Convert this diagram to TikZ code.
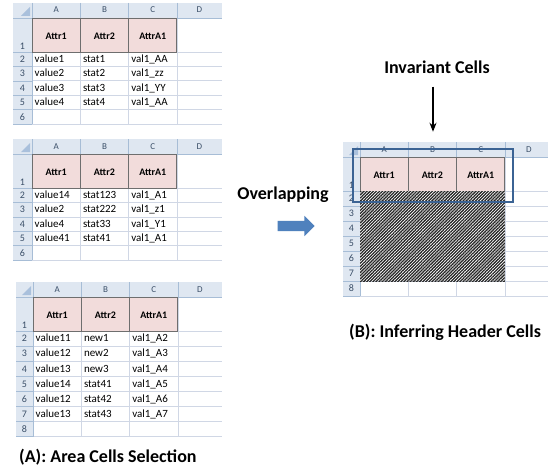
\documentclass[tikz,border=0pt]{standalone}
\usepackage{fontspec}
\setmainfont{Carlito}
\usetikzlibrary{patterns.meta,shapes.arrows,arrows.meta}
\definecolor{hdr}{HTML}{DFE7F1}
\definecolor{hdrline}{HTML}{A7BDD6}
\definecolor{gridc}{HTML}{D0D7E5}
\definecolor{pinkc}{HTML}{F2DCDB}
\definecolor{pinkline}{HTML}{6E6E6E}
\definecolor{cornerc}{HTML}{A9C0DC}
\definecolor{hdrtext}{HTML}{3B4F68}
\definecolor{boxblue}{HTML}{3B6394}
\definecolor{arrblue}{HTML}{4F81BD}
\tikzset{
 colletter/.style={font=\fontsize{9}{10}\selectfont, text=hdrtext, inner sep=0pt, text height=6.5pt, text depth=1.5pt},
 rownum/.style={font=\fontsize{10}{11}\selectfont, text=hdrtext, inner sep=0pt, text height=7pt, text depth=1.5pt},
 attrcell/.style={font=\bfseries\fontsize{10}{11}\selectfont, inner sep=0pt, text height=7pt, text depth=1.5pt},
 datacell/.style={font=\fontsize{11}{13}\selectfont, anchor=west, inner sep=0pt, text height=7.5pt, text depth=2pt},
 captiontext/.style={font=\bfseries\fontsize{18}{21}\selectfont, inner sep=0pt},
 gridline/.style={draw=gridc, line width=0.6pt},
 hdrrule/.style={draw=hdrline, line width=0.5pt},
}
% #1 prefix, #2 row-number width, #3 row height, #4 rows after row 1, #5 total width
\newcommand\sheet[5]{%
 \pgfmathsetmacro\xa{#2}%
 \pgfmathsetmacro\xb{#2+48.3}%
 \pgfmathsetmacro\xc{#2+96.6}%
 \pgfmathsetmacro\xd{#2+144.9}%
 \pgfmathsetmacro\yb{49+#4*#3}%
 \fill[hdr] (0,0) rectangle (#5,15);
 \fill[hdr] (0,15) rectangle (\xa,\yb);
 \foreach \k in {0,...,#4}{%
   \draw[gridline] (\xa,{49+\k*#3}) -- (#5,{49+\k*#3});
   \draw[hdrrule] (0,{49+\k*#3}) -- (\xa,{49+\k*#3});}
 \foreach \x in {\xb,\xc,\xd}{%
   \draw[gridline] (\x,15) -- (\x,\yb);
   \draw[hdrrule] (\x,0) -- (\x,15);}
 \draw[hdrrule] (0,15) -- (#5,15);
 \draw[hdrrule] (\xa,0) -- (\xa,\yb);
 \fill[cornerc] (\xa-2,13) -- (\xa-2,4) -- (\xa-11,13) -- cycle;
 \draw[pinkline, fill=pinkc, line width=0.9pt] (\xa,15) rectangle (\xb,49) (\xb,15) rectangle (\xc,49) (\xc,15) rectangle (\xd,49);
 \node[colletter] (#1-A) at ({(\xa+\xb)/2},7.5) {A};
 \node[colletter] (#1-B) at ({(\xb+\xc)/2},7.5) {B};
 \node[colletter] (#1-C) at ({(\xc+\xd)/2},7.5) {C};
 \node[colletter] (#1-D) at ({(\xd+#5)/2},7.5) {D};
 \node[rownum] (#1-n1) at ({\xa/2},44) {1};
 \foreach \k [evaluate=\k as \m using int(\k+1)] in {1,...,#4}{%
   \node[rownum] (#1-n\m) at ({\xa/2},{49.5+(\k-0.5)*#3}) {\m};}
 \node[attrcell] (#1-h1) at ({(\xa+\xb)/2},34) {Attr1};
 \node[attrcell] (#1-h2) at ({(\xb+\xc)/2},34) {Attr2};
 \node[attrcell] (#1-h3) at ({(\xc+\xd)/2},34) {AttrA1};
}
% #1 prefix, #2 row height, #3 data
\newcommand\sheetrows[3]{%
 \foreach \p/\q/\r [count=\i] in {#3}{%
  \node[datacell] (#1-\i-a) at ({\xa+2.5},{49.5+(\i-0.5)*#2}) {\p};
  \node[datacell] (#1-\i-b) at ({\xb+2.5},{49.5+(\i-0.5)*#2}) {\q};
  \node[datacell] (#1-\i-c) at ({\xc+2.5},{49.5+(\i-0.5)*#2}) {\r};}
}
\begin{document}
\begin{tikzpicture}[x=1pt,y=-1pt]
\useasboundingbox (0,0) rectangle (548,468);
\fill[white] (0,0) rectangle (548,468);
% sheet 1
\begin{scope}[shift={(13,3)}]
 \sheet{ta}{19}{14.4}{5}{209}
 \sheetrows{ta}{14.4}{value1/stat1/val1\_AA, value2/stat2/val1\_zz, value3/stat3/val1\_YY, value4/stat4/val1\_AA}
\end{scope}
% sheet 2
\begin{scope}[shift={(13,139)}]
 \sheet{tb}{19}{14.4}{5}{209}
 \sheetrows{tb}{14.4}{value14/stat123/val1\_A1, value2/stat222/val1\_z1, value4/stat33/val1\_Y1, value41/stat41/val1\_A1}
\end{scope}
% sheet 3
\begin{scope}[shift={(16,282)}]
 \sheet{tc}{17}{15.1}{7}{206}
 \sheetrows{tc}{15.1}{value11/new1/val1\_A2, value12/new2/val1\_A3, value13/new3/val1\_A4, value14/stat41/val1\_A5, value12/stat42/val1\_A6, value13/stat43/val1\_A7}
\end{scope}
% sheet 4
\begin{scope}[shift={(343,142)}]
 \sheet{td}{17}{15}{7}{210}
 \fill[white] (\xa,49) rectangle (\xd,139);
 \fill[pattern={Lines[angle=45,distance=2.2pt,line width=1.3pt]}, pattern color=black!85] (\xa,49) rectangle (\xd,139);
\end{scope}
\node[captiontext, anchor=west] (capA) at (19,457) {(A): Area Cells Selection};
\node[captiontext, anchor=west] (capB) at (349,332) {(B): Inferring Header Cells};
\node[captiontext] (ovl) at (283,195) {Overlapping};
\node[single arrow, fill=arrblue, draw=none, minimum height=37pt, inner sep=5pt, single arrow head extend=5pt] (ovarrow) at (293.5,226) {};
\node[captiontext] (inv) at (437,67) {Invariant Cells};
\node[draw=boxblue, line width=2.5pt, minimum width=160pt, minimum height=53pt, inner sep=0pt] (box) at (433,175.5) {};
\draw[-{Stealth[length=9pt,width=7pt]}, line width=1.4pt, shorten <=13pt, shorten >=16pt] (inv.south -| box.north) -- (box.north);
\end{tikzpicture}
\end{document}
